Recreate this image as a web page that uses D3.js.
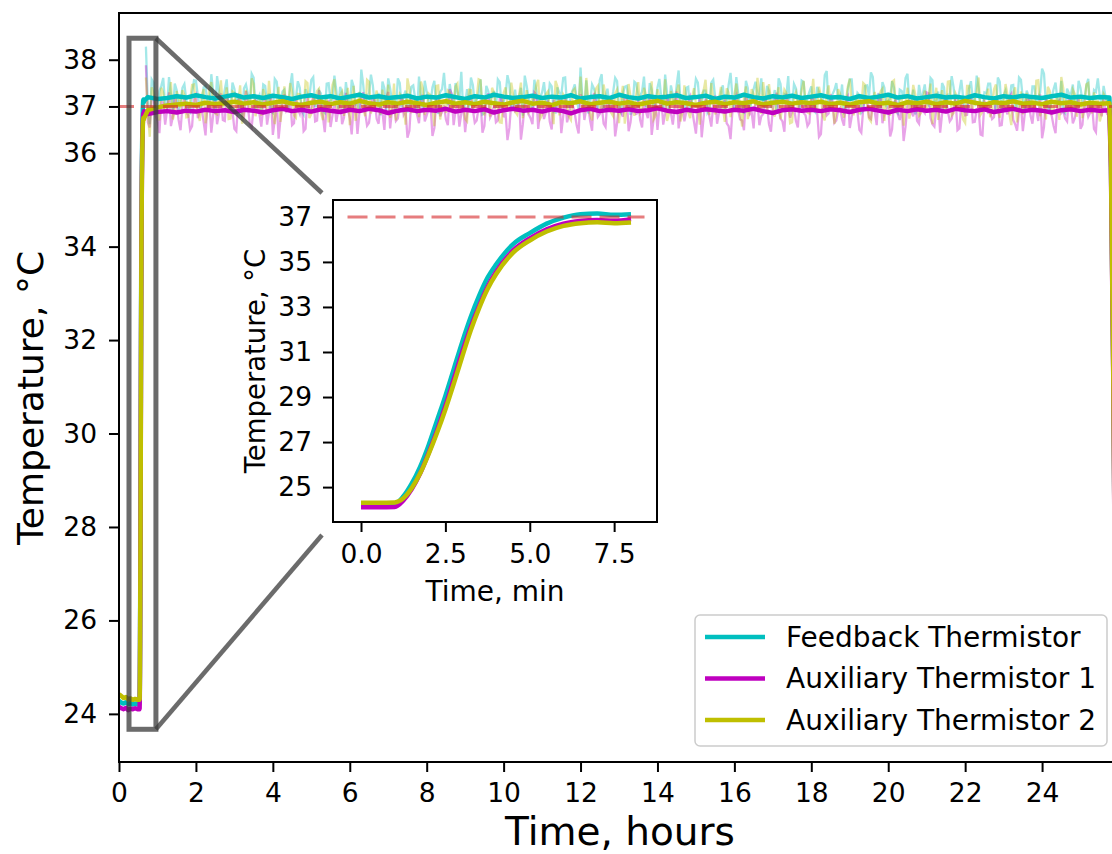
<!DOCTYPE html>
<html lang="en">
<head>
    <meta charset="utf-8">
    <script src="https://d3js.org/d3.v7.min.js"></script>
</head>
<body style="margin:0;background:#fff">
<style>
    text { font-family: "DejaVu Sans", sans-serif; fill: #000; }
</style>
<svg id="chart"></svg>
<script>
    const width = 1112;
    const height = 854;

    // sensors
    const sensorNames = ['Feedback Thermistor', 'Auxiliary Thermistor 1', 'Auxiliary Thermistor 2'];
    const sensorColors = ['#00bfbf', '#bf00bf', '#bfbf00'];
    const setpoint = 37;

    // main axis ticks
    const hourTicks = [0, 2, 4, 6, 8, 10, 12, 14, 16, 18, 20, 22, 24];
    const tempTicks = [24, 26, 28, 30, 32, 34, 36, 38];

    // before heating (hours)
    const preHours = [0, 0.06, 0.12, 0.18, 0.24, 0.30, 0.36, 0.42, 0.48];
    const preFeedback = [24.28, 24.24, 24.22, 24.25, 24.21, 24.23, 24.20, 24.22, 24.20];
    const preAux1 = [24.15, 24.12, 24.10, 24.13, 24.08, 24.11, 24.10, 24.12, 24.10];
    const preAux2 = [24.42, 24.38, 24.34, 24.36, 24.31, 24.33, 24.30, 24.32, 24.30];

    // heating phase (inset), minutes from start of heating
    const heatStartHour = 0.52;
    const insetMinutes = [0, 0.5, 1.0, 1.25, 1.5, 1.75, 2.0, 2.25, 2.5, 2.75, 3.0, 3.25, 3.5, 3.75, 4.0, 4.5, 5.0, 5.5, 6.0, 6.5, 7.0, 7.5, 8.0];
    const insetFeedback = [24.20, 24.20, 24.25, 24.58, 25.15, 25.90, 26.85, 27.95, 29.05, 30.25, 31.45, 32.55, 33.50, 34.30, 34.88, 35.78, 36.28, 36.70, 36.97, 37.12, 37.15, 37.09, 37.12];
    const insetAux1 = [24.10, 24.10, 24.12, 24.40, 24.90, 25.60, 26.50, 27.50, 28.60, 29.80, 31.00, 32.10, 33.05, 33.90, 34.55, 35.50, 36.05, 36.45, 36.70, 36.82, 36.86, 36.83, 36.90];
    const insetAux2 = [24.30, 24.30, 24.32, 24.50, 24.95, 25.60, 26.45, 27.40, 28.45, 29.60, 30.80, 31.95, 32.95, 33.80, 34.45, 35.40, 35.95, 36.35, 36.60, 36.72, 36.76, 36.72, 36.75];
    const insetMinTicks = [0, 2.5, 5.0, 7.5];
    const insetTempTicks = [25, 27, 29, 31, 33, 35, 37];

    // smoothed plateau, every 0.25 h from 0.75 h
    const plateauStart = 0.75;
    const plateauStep = 0.25;
    const plateauFeedback = [
        37.20, 37.16, 37.18, 37.22, 37.19, 37.24, 37.20, 37.17, 37.21, 37.25,
        37.19, 37.22, 37.18, 37.23, 37.20, 37.16, 37.21, 37.24, 37.19, 37.22,
        37.17, 37.21, 37.25, 37.19, 37.22, 37.18, 37.20, 37.23, 37.17, 37.21,
        37.19, 37.24, 37.20, 37.16, 37.22, 37.19, 37.25, 37.21, 37.18, 37.20,
        37.23, 37.18, 37.21, 37.19, 37.24, 37.17, 37.20, 37.22, 37.18, 37.25,
        37.20, 37.17, 37.22, 37.19, 37.21, 37.24, 37.18, 37.20, 37.23, 37.16,
        37.21, 37.19, 37.25, 37.20, 37.17, 37.22, 37.19, 37.23, 37.18, 37.21,
        37.24, 37.19, 37.20, 37.16, 37.22, 37.18, 37.21, 37.25, 37.19, 37.22,
        37.17, 37.20, 37.23, 37.19, 37.21, 37.18, 37.24, 37.20, 37.17, 37.22,
        37.19, 37.23, 37.20, 37.18, 37.22, 37.25, 37.19, 37.21, 37.18, 37.20,
        37.19];
    const plateauAux1 = [
        36.84, 36.88, 36.90, 36.87, 36.91, 36.89, 36.93, 36.90, 36.92, 36.88,
        36.93, 36.91, 36.87, 36.92, 36.95, 36.90, 36.93, 36.89, 36.94, 36.91,
        36.88, 36.93, 36.90, 36.95, 36.92, 36.86, 36.91, 36.94, 36.90, 36.93,
        36.91, 36.95, 36.89, 36.93, 36.90, 36.94, 36.87, 36.92, 36.95, 36.91,
        36.93, 36.89, 36.94, 36.91, 36.85, 36.92, 36.95, 36.90, 36.93, 36.91,
        36.94, 36.90, 36.92, 36.96, 36.91, 36.88, 36.93, 36.90, 36.94, 36.92,
        36.89, 36.93, 36.91, 36.95, 36.90, 36.86, 36.92, 36.94, 36.91, 36.93,
        36.90, 36.94, 36.92, 36.88, 36.93, 36.95, 36.91, 36.87, 36.93, 36.90,
        36.94, 36.91, 36.93, 36.89, 36.95, 36.92, 36.90, 36.94, 36.88, 36.92,
        36.95, 36.90, 36.93, 36.91, 36.87, 36.92, 36.94, 36.90, 36.93, 36.91,
        36.92];
    const plateauAux2 = [
        36.92, 36.98, 37.02, 37.04, 37.06, 37.03, 37.08, 37.05, 37.07, 37.10,
        37.06, 37.09, 37.04, 37.08, 37.11, 37.06, 37.03, 37.08, 37.10, 37.05,
        37.09, 37.06, 37.12, 37.07, 37.04, 37.09, 37.06, 37.10, 37.07, 37.03,
        37.08, 37.11, 37.06, 37.09, 37.05, 37.10, 37.07, 37.04, 37.09, 37.12,
        37.06, 37.08, 37.03, 37.09, 37.07, 37.11, 37.05, 37.08, 37.10, 37.06,
        37.09, 37.04, 37.08, 37.12, 37.06, 37.09, 37.07, 37.03, 37.08, 37.10,
        37.05, 37.09, 37.07, 37.11, 37.04, 37.08, 37.10, 37.06, 37.09, 37.07,
        37.10, 37.05, 37.08, 37.04, 37.09, 37.11, 37.06, 37.08, 37.03, 37.09,
        37.07, 37.10, 37.05, 37.09, 37.06, 37.12, 37.08, 37.04, 37.09, 37.07,
        37.11, 37.06, 37.08, 37.05, 37.10, 37.07, 37.09, 37.04, 37.08, 37.06,
        37.07];

    // end of run, cooling
    const dropHours = [25.79, 25.855, 25.90];
    const dropFeedback = [35.9, 31.1, 26.0];
    const dropAux1 = [35.7, 30.9, 25.8];
    const dropAux2 = [35.8, 31.0, 25.9];

    // raw readings, every 0.1 h from 0.7 h
    const rawStart = 0.7;
    const rawStep = 0.1;
    const rawFeedback = [
        38.28, 36.62, 37.51, 36.95, 37.44, 37.02, 37.63, 36.88, 37.35, 37.10,
        37.48, 36.91, 37.27, 37.55, 36.98, 37.41, 37.06, 37.69, 36.85, 37.32,
        37.12, 37.58, 36.94, 37.38, 37.21, 36.79, 37.47, 37.03, 37.62, 37.15,
        36.92, 37.44, 37.28, 36.86, 37.53, 37.09, 37.36, 36.97, 37.71, 37.18,
        37.40, 36.83, 37.25, 37.57, 37.01, 37.34, 36.90, 37.49, 37.13, 37.66,
        36.96, 37.30, 37.52, 36.89, 37.43, 37.07, 37.79, 36.99, 37.26, 37.45,
        37.04, 36.81, 37.39, 37.60, 37.11, 36.93, 37.50, 37.22, 36.87, 37.42,
        37.17, 37.64, 36.95, 37.31, 37.08, 37.55, 36.84, 37.37, 37.20, 37.48,
        36.98, 37.29, 37.74, 37.05, 36.90, 37.46, 37.14, 37.58, 36.86, 37.33,
        37.23, 36.97, 37.52, 37.10, 37.67, 36.91, 37.36, 37.19, 36.80, 37.44,
        37.06, 37.57, 36.94, 37.30, 37.12, 37.49, 36.88, 37.41, 37.25, 37.62,
        36.99, 37.35, 37.16, 37.83, 37.02, 36.85, 37.47, 37.21, 37.56, 36.93,
        37.38, 37.09, 37.61, 36.96, 37.27, 37.44, 36.82, 37.53, 37.15, 37.32,
        37.01, 37.50, 36.92, 37.40, 37.18, 37.68, 36.95, 37.24, 37.46, 37.07,
        36.89, 37.42, 37.13, 37.59, 37.03, 37.34, 36.87, 37.51, 37.20, 36.98,
        37.45, 37.11, 37.72, 36.94, 37.28, 37.06, 37.55, 36.90, 37.37, 37.22,
        37.60, 36.97, 37.33, 37.14, 36.84, 37.48, 37.26, 37.65, 37.00, 37.39,
        36.93, 37.52, 37.19, 37.43, 36.88, 37.31, 37.08, 37.76, 36.99, 37.35,
        37.16, 37.47, 36.91, 37.58, 37.05, 37.29, 36.86, 37.44, 37.23, 37.63,
        37.02, 36.95, 37.40, 37.12, 37.54, 36.89, 37.36, 37.18, 37.70, 37.04,
        36.83, 37.46, 37.27, 37.09, 37.61, 36.97, 37.32, 37.50, 36.92, 37.25,
        37.41, 37.07, 37.57, 36.90, 37.38, 37.14, 37.66, 36.96, 37.30, 37.49,
        37.11, 36.87, 37.53, 37.24, 37.02, 37.45, 36.94, 37.62, 37.17, 37.34,
        36.98, 37.43, 37.20, 37.81, 37.06, 36.91, 37.37, 37.13, 37.55, 36.85,
        37.28, 37.47, 37.01, 37.39, 37.16, 37.59, 36.93, 37.31, 37.22, 37.44,
        37.05];
    const rawAux1 = [
        37.88, 36.55, 37.21, 36.70, 37.12, 36.61, 37.30, 36.78, 37.05, 36.49,
        37.16, 36.82, 36.58, 37.24, 36.90, 36.67, 37.09, 36.44, 37.19, 36.86,
        36.71, 37.27, 36.95, 36.52, 37.14, 36.80, 37.33, 36.63, 36.99, 37.08,
        36.57, 37.20, 36.88, 36.39, 37.11, 36.74, 37.26, 36.92, 36.60, 37.17,
        36.84, 36.47, 37.22, 36.97, 36.68, 37.35, 36.79, 37.03, 36.56, 37.13,
        36.91, 36.62, 37.29, 36.76, 37.01, 36.41, 37.18, 36.87, 36.65, 37.23,
        36.73, 37.10, 36.50, 37.31, 36.94, 36.69, 37.06, 36.83, 36.33, 37.15,
        36.98, 36.64, 37.25, 36.81, 37.04, 36.54, 37.19, 36.89, 36.72, 37.37,
        36.60, 37.07, 36.85, 36.45, 37.21, 36.93, 36.70, 37.12, 36.58, 37.28,
        36.86, 36.66, 37.17, 36.77, 36.28, 37.09, 36.90, 37.24, 36.62, 37.00,
        36.75, 37.30, 36.52, 37.08, 36.88, 36.67, 37.14, 36.96, 36.43, 37.20,
        36.82, 37.02, 36.59, 37.26, 36.71, 36.99, 36.48, 37.11, 36.84, 36.63,
        37.18, 36.92, 36.36, 37.05, 36.78, 37.22, 36.66, 36.97, 37.13, 36.55,
        36.89, 37.27, 36.73, 36.50, 37.16, 36.85, 37.03, 36.61, 37.32, 36.80,
        36.68, 37.10, 36.94, 36.42, 37.19, 36.76, 36.99, 36.57, 37.23, 36.87,
        37.06, 36.64, 36.30, 37.14, 36.91, 36.70, 37.25, 36.83, 36.53, 37.09,
        36.79, 37.18, 36.62, 36.95, 37.29, 36.74, 36.46, 37.07, 36.90, 36.69,
        37.12, 36.86, 36.58, 37.21, 36.97, 36.35, 37.04, 36.81, 37.26, 36.65,
        36.93, 36.72, 37.15, 36.54, 37.01, 36.88, 36.44, 37.20, 36.77, 37.08,
        36.60, 37.24, 36.85, 36.98, 36.51, 37.13, 36.71, 36.26, 37.02, 36.89,
        37.17, 36.63, 36.92, 37.30, 36.75, 36.57, 37.10, 36.84, 37.19, 36.68,
        36.96, 36.49, 37.07, 36.81, 37.23, 36.66, 36.94, 36.40, 37.11, 36.87,
        36.73, 37.16, 36.59, 37.00, 36.83, 37.27, 36.62, 36.91, 36.47, 37.14,
        36.80, 37.05, 36.69, 36.32, 37.18, 36.95, 36.58, 37.09, 36.86, 36.74,
        37.21, 36.64, 36.98, 36.52, 37.12, 36.78, 37.03, 36.45, 36.92, 37.15,
        36.82];
    const rawAux2 = [
        37.62, 36.35, 37.28, 36.81, 37.40, 36.90, 37.17, 36.72, 37.33, 36.96,
        37.25, 36.78, 37.46, 37.00, 36.69, 37.37, 36.93, 37.52, 36.85, 37.19,
        36.98, 37.41, 36.74, 37.29, 37.07, 36.63, 37.35, 36.89, 37.48, 37.03,
        36.80, 37.22, 37.55, 36.91, 37.14, 36.67, 37.43, 36.99, 37.31, 36.76,
        37.26, 36.95, 37.50, 36.84, 37.09, 37.38, 36.71, 37.20, 36.97, 37.58,
        36.87, 37.32, 37.05, 36.60, 37.44, 36.94, 37.16, 36.79, 37.53, 37.01,
        37.34, 36.83, 37.11, 37.47, 36.92, 36.70, 37.27, 37.04, 37.60, 36.88,
        37.13, 36.77, 37.39, 36.96, 37.24, 36.58, 37.45, 37.02, 36.86, 37.30,
        36.94, 37.49, 37.08, 36.73, 37.36, 36.90, 37.18, 37.56, 36.81, 37.12,
        37.40, 36.98, 36.66, 37.29, 37.06, 37.51, 36.89, 37.23, 36.75, 37.35,
        36.95, 37.15, 37.57, 36.82, 37.26, 36.97, 36.62, 37.42, 37.03, 37.19,
        36.78, 37.33, 37.07, 37.64, 36.91, 37.17, 36.70, 37.38, 36.99, 37.47,
        37.10, 36.86, 37.28, 36.64, 37.44, 37.01, 37.21, 36.80, 37.52, 36.93,
        37.24, 37.00, 36.72, 37.37, 36.96, 37.58, 36.85, 37.14, 37.31, 36.68,
        37.45, 36.88, 37.20, 37.05, 36.61, 37.34, 36.99, 37.50, 36.83, 37.16,
        36.97, 37.39, 36.77, 37.25, 37.08, 36.57, 37.43, 36.92, 37.27, 37.61,
        36.84, 37.13, 37.48, 36.95, 37.22, 36.73, 37.36, 37.04, 36.66, 37.30,
        37.09, 37.55, 36.87, 37.18, 36.94, 37.42, 36.79, 37.26, 37.01, 36.63,
        37.37, 36.90, 37.12, 37.59, 36.81, 37.23, 36.98, 37.46, 36.74, 37.15,
        36.99, 37.32, 36.69, 37.21, 37.53, 36.88, 37.07, 36.59, 37.40, 37.02,
        37.28, 36.80, 37.17, 36.93, 37.49, 37.06, 36.71, 37.35, 36.95, 37.54,
        36.86, 37.19, 37.03, 36.65, 37.44, 36.97, 37.30, 36.82, 37.14, 37.38,
        36.92, 37.47, 36.76, 37.10, 37.25, 36.60, 37.41, 37.00, 36.83, 37.29,
        37.13, 36.89, 37.56, 37.04, 36.72, 37.33, 36.94, 37.20, 37.63, 36.87,
        37.01, 37.36, 36.78, 37.24, 36.96, 37.50, 36.85, 37.11, 36.68, 37.27,
        37.05];

    // raw readings in between, every 0.1 h from 0.75 h
    const rawMidStart = 0.75;
    const rawFeedbackMid = [
        37.05, 37.58, 36.84, 37.33, 37.61, 36.97, 37.26, 37.49, 36.90, 37.40,
        37.14, 36.87, 37.56, 37.23, 37.02, 37.44, 36.93, 37.30, 37.65, 37.08,
        37.36, 36.99, 37.51, 37.12, 36.82, 37.39, 37.27, 37.70, 36.95, 37.24,
        37.47, 37.06, 36.89, 37.59, 37.18, 37.32, 36.96, 37.43, 37.10, 37.54,
        36.91, 37.37, 37.21, 37.63, 37.00, 37.28, 36.86, 37.50, 37.15, 37.35,
        37.42, 36.94, 37.19, 37.57, 37.04, 36.88, 37.46, 37.25, 37.68, 37.01,
        37.29, 37.53, 36.92, 37.38, 37.13, 37.60, 36.98, 37.34, 37.07, 37.45,
        36.85, 37.22, 37.55, 37.09, 37.41, 36.95, 37.31, 37.72, 37.03, 37.20,
        37.50, 37.16, 36.90, 37.37, 37.62, 37.05, 37.27, 36.83, 37.44, 37.11,
        37.33, 37.58, 36.97, 37.24, 37.48, 37.02, 36.89, 37.40, 37.66, 37.17,
        36.93, 37.35, 37.19, 37.52, 37.06, 37.43, 36.87, 37.29, 37.61, 37.00,
        37.26, 37.47, 36.94, 37.13, 37.56, 37.08, 37.38, 36.91, 37.69, 37.21,
        37.04, 37.32, 37.54, 36.88, 37.42, 37.15, 36.96, 37.49, 37.23, 37.64,
        36.99, 37.36, 37.10, 37.59, 36.92, 37.28, 37.45, 37.03, 37.77, 37.18,
        37.40, 36.86, 37.25, 37.51, 37.07, 37.34, 36.95, 37.57, 37.12, 37.30,
        36.90, 37.46, 37.20, 37.63, 37.01, 36.84, 37.39, 37.16, 37.53, 37.27,
        37.09, 37.44, 36.97, 37.35, 37.60, 37.05, 37.22, 36.89, 37.48, 37.14,
        37.55, 37.00, 37.31, 36.93, 37.42, 37.19, 37.67, 36.96, 37.26, 37.50,
        37.11, 36.87, 37.37, 37.58, 37.06, 37.24, 36.91, 37.45, 37.73, 37.02,
        37.29, 37.52, 36.98, 37.17, 37.40, 36.85, 37.33, 37.61, 37.08, 37.36,
        36.94, 37.21, 37.47, 37.03, 37.56, 37.13, 36.88, 37.41, 37.25, 37.65,
        37.00, 37.32, 37.18, 36.92, 37.54, 37.07, 37.39, 36.97, 37.28, 37.49,
        37.15, 37.62, 36.90, 37.34, 37.10, 37.46, 37.01, 37.57, 36.86, 37.23,
        37.43, 37.05, 37.30, 37.70, 36.95, 37.19, 37.51, 37.08, 36.89, 37.38,
        37.26, 36.99, 37.55, 37.12, 37.44, 36.93, 37.35, 37.60, 37.04, 37.21];
    const rawAux1Mid = [
        36.66, 37.19, 36.80, 36.43, 37.07, 36.92, 36.58, 37.25, 36.71, 37.02,
        36.87, 36.50, 37.15, 36.75, 36.96, 36.38, 37.10, 36.83, 36.62, 37.28,
        36.69, 37.04, 36.90, 36.47, 37.20, 36.78, 37.01, 36.55, 37.13, 36.85,
        36.98, 36.61, 37.23, 36.72, 36.31, 37.06, 36.89, 37.17, 36.64, 36.95,
        37.09, 36.52, 36.84, 37.26, 36.70, 36.99, 36.45, 37.14, 36.81, 36.67,
        37.21, 36.76, 36.93, 36.40, 37.03, 36.86, 37.30, 36.59, 36.97, 37.11,
        36.63, 36.88, 37.18, 36.53, 37.00, 36.74, 37.24, 36.92, 36.48, 37.08,
        36.82, 37.16, 36.68, 36.95, 36.37, 37.12, 36.79, 37.02, 36.60, 37.27,
        36.91, 36.57, 37.05, 36.85, 37.22, 36.65, 36.98, 36.44, 37.15, 36.77,
        37.01, 36.70, 37.19, 36.87, 36.54, 37.10, 36.94, 36.29, 37.06, 36.83,
        36.62, 37.25, 36.90, 36.73, 37.13, 36.51, 36.99, 37.20, 36.80, 36.66,
        37.08, 36.85, 36.42, 37.17, 36.96, 36.69, 37.29, 36.78, 37.03, 36.56,
        36.92, 37.14, 36.64, 36.88, 37.23, 36.47, 37.05, 36.82, 36.71, 37.18,
        36.75, 36.39, 37.11, 36.97, 36.61, 37.26, 36.86, 37.00, 36.53, 37.09,
        36.89, 37.21, 36.67, 36.94, 36.34, 37.16, 36.79, 37.04, 36.63, 36.98,
        37.12, 36.58, 36.91, 37.24, 36.72, 36.49, 37.07, 36.87, 37.19, 36.60,
        36.84, 37.02, 36.46, 37.15, 36.93, 36.68, 37.27, 36.76, 36.99, 36.55,
        37.10, 36.81, 36.65, 37.20, 36.90, 36.41, 37.06, 36.85, 37.13, 36.70,
        36.97, 36.59, 37.22, 36.78, 37.01, 36.50, 36.95, 37.17, 36.73, 36.88,
        37.25, 36.64, 36.92, 36.36, 37.09, 36.83, 37.03, 36.57, 37.14, 36.79,
        36.69, 37.08, 36.86, 37.28, 36.62, 36.97, 36.44, 37.11, 36.90, 36.74,
        37.18, 36.53, 37.00, 36.82, 37.23, 36.67, 36.94, 36.38, 37.05, 36.89,
        36.77, 37.12, 36.60, 36.96, 37.20, 36.71, 36.48, 37.07, 36.84, 37.16,
        36.63, 36.93, 37.26, 36.56, 37.02, 36.80, 36.43, 37.13, 36.91, 36.68,
        37.04, 36.75, 37.19, 36.61, 36.98, 36.87, 36.52, 37.10, 36.79, 36.95];
    const rawAux2Mid = [
        36.84, 37.41, 37.06, 36.70, 37.29, 36.95, 37.52, 36.88, 37.18, 37.35,
        36.77, 37.13, 37.47, 36.92, 37.24, 36.64, 37.39, 37.01, 36.83, 37.56,
        37.09, 36.73, 37.32, 36.97, 37.45, 36.86, 37.15, 37.60, 36.79, 37.21,
        37.37, 36.90, 37.05, 36.62, 37.42, 37.11, 36.94, 37.50, 36.81, 37.27,
        36.99, 37.54, 36.75, 37.19, 37.33, 36.87, 37.08, 36.66, 37.46, 37.02,
        37.25, 36.80, 37.40, 37.12, 36.69, 37.31, 36.96, 37.57, 36.85, 37.14,
        36.93, 37.36, 37.04, 36.76, 37.49, 37.00, 37.22, 36.61, 37.38, 36.89,
        37.17, 37.53, 36.82, 37.28, 36.98, 37.44, 36.72, 37.10, 37.34, 36.91,
        37.43, 36.86, 37.20, 36.68, 37.35, 37.06, 37.58, 36.94, 37.13, 36.78,
        37.30, 37.01, 36.65, 37.41, 36.97, 37.24, 36.83, 37.51, 37.07, 36.88,
        37.19, 37.46, 36.74, 37.03, 37.32, 36.90, 37.55, 36.81, 37.26, 37.00,
        36.71, 37.38, 37.11, 36.95, 37.61, 36.84, 37.16, 37.44, 36.92, 37.23,
        37.05, 36.79, 37.36, 37.14, 36.63, 37.48, 36.98, 37.27, 36.86, 37.40,
        36.96, 37.54, 36.80, 37.21, 37.02, 36.69, 37.33, 37.09, 37.47, 36.87,
        37.12, 36.75, 37.39, 36.99, 37.25, 37.57, 36.82, 37.15, 36.94, 37.42,
        36.67, 37.30, 37.06, 37.49, 36.89, 37.18, 36.73, 37.37, 37.01, 37.24,
        37.52, 36.91, 37.13, 36.78, 37.41, 37.04, 37.29, 36.64, 37.20, 36.97,
        37.35, 37.08, 36.85, 37.59, 36.93, 37.22, 36.70, 37.45, 37.11, 36.88,
        37.26, 36.76, 37.43, 37.00, 37.17, 36.83, 37.50, 37.03, 36.68, 37.31,
        36.95, 37.38, 37.14, 36.80, 37.56, 36.90, 37.23, 37.06, 36.74, 37.46,
        37.02, 36.86, 37.34, 37.19, 36.62, 37.40, 37.10, 36.97, 37.53, 36.81,
        37.28, 37.05, 36.72, 37.44, 36.99, 37.16, 37.62, 36.89, 37.21, 36.77,
        37.37, 36.94, 37.11, 37.48, 36.84, 37.25, 36.66, 37.32, 37.08, 36.92,
        37.18, 37.55, 36.79, 37.03, 37.42, 36.87, 37.14, 36.71, 37.39, 37.00,
        36.88, 37.27, 37.09, 36.75, 37.47, 36.96, 37.30, 37.12, 36.83, 37.20];

    // zoom box in main axes (hours, degC)
    const zoomHours = [0.26, 0.96];
    const zoomTemps = [23.67, 38.46];

    // layout
    const margin = {left: 119, top: 13, right: 1119, bottom: 762};
    const inset = {left: 333, top: 200, right: 657, bottom: 522};
    const tickFont = 26.5;

    const svg = d3.select('#chart');
    svg.attr('width', width).attr('height', height);

    const x = d3.scaleLinear().domain([0, 26]).range([margin.left, margin.right]);
    const y = d3.scaleLinear().domain([22.97, 39.0]).range([margin.bottom, margin.top]);

    svg.append('defs').append('clipPath').attr('id', 'mainClip')
        .append('rect')
        .attr('x', margin.left).attr('y', margin.top)
        .attr('width', margin.right - margin.left).attr('height', margin.bottom - margin.top);

    const plot = svg.append('g').attr('clip-path', 'url(#mainClip)');

    const line = d3.line().x((d) => x(d[0])).y((d) => y(d[1]));

    // raw traces: both sample sets merged in time order
    const rawSets = [[rawFeedback, rawFeedbackMid], [rawAux1, rawAux1Mid], [rawAux2, rawAux2Mid]];
    rawSets.forEach(([main, mid], k) => {
        const pts = [
            ...main.map((v, i) => [rawStart + i * rawStep, v]),
            ...mid.map((v, i) => [rawMidStart + i * rawStep, v])
        ].sort((a, b) => a[0] - b[0]);
        plot.append('path')
            .attr('d', line(pts))
            .attr('fill', 'none')
            .attr('stroke', sensorColors[k])
            .attr('stroke-opacity', 0.36)
            .attr('stroke-width', 2.3);
    });

    // smoothed traces
    const preSets = [preFeedback, preAux1, preAux2];
    const insetSets = [insetFeedback, insetAux1, insetAux2];
    const plateauSets = [plateauFeedback, plateauAux1, plateauAux2];
    const dropSets = [dropFeedback, dropAux1, dropAux2];

    for (let k = 0; k < 3; k++) {
        const pts = [
            ...preHours.map((h, i) => [h, preSets[k][i]]),
            ...insetMinutes.map((m, i) => [heatStartHour + m / 60, insetSets[k][i]]),
            ...plateauSets[k].map((v, i) => [plateauStart + i * plateauStep, v]),
            ...dropHours.map((h, i) => [h, dropSets[k][i]])
        ];
        plot.append('path')
            .attr('d', line(pts))
            .attr('fill', 'none')
            .attr('stroke', sensorColors[k])
            .attr('stroke-width', 4.5)
            .attr('stroke-linejoin', 'round');
    }

    // setpoint line
    plot.append('line')
        .attr('x1', x(0)).attr('x2', x(26))
        .attr('y1', y(setpoint)).attr('y2', y(setpoint))
        .attr('stroke', '#d62728')
        .attr('stroke-opacity', 0.6)
        .attr('stroke-width', 3)
        .attr('stroke-dasharray', '15,7');

    // zoom box
    svg.append('rect')
        .attr('x', x(zoomHours[0])).attr('y', y(zoomTemps[1]))
        .attr('width', x(zoomHours[1]) - x(zoomHours[0]))
        .attr('height', y(zoomTemps[0]) - y(zoomTemps[1]))
        .attr('fill', 'none')
        .attr('stroke', '#3a3a3a')
        .attr('stroke-opacity', 0.75)
        .attr('stroke-width', 5);

    // connectors to inset
    const connectors = [
        [x(zoomHours[1]), y(zoomTemps[1]), inset.left - 11, inset.top - 7],
        [x(zoomHours[1]), y(zoomTemps[0]), inset.left - 11, inset.bottom + 13]
    ];
    connectors.forEach((c) => {
        svg.append('line')
            .attr('x1', c[0]).attr('y1', c[1]).attr('x2', c[2]).attr('y2', c[3])
            .attr('stroke', '#3a3a3a')
            .attr('stroke-opacity', 0.75)
            .attr('stroke-width', 4.5);
    });

    // main frame
    svg.append('rect')
        .attr('x', margin.left).attr('y', margin.top)
        .attr('width', margin.right - margin.left).attr('height', margin.bottom - margin.top)
        .attr('fill', 'none').attr('stroke', '#000').attr('stroke-width', 2);

    // main axes
    const xAxis = svg.append('g')
        .attr('transform', `translate(0,${margin.bottom})`)
        .call(d3.axisBottom(x).tickValues(hourTicks).tickSize(10).tickPadding(11).tickFormat(d3.format('d')));
    const yAxis = svg.append('g')
        .attr('transform', `translate(${margin.left},0)`)
        .call(d3.axisLeft(y).tickValues([...tempTicks, setpoint]).tickSize(10).tickPadding(12).tickFormat(d3.format('d')));
    [xAxis, yAxis].forEach((a) => {
        a.select('.domain').remove();
        a.selectAll('.tick line').attr('stroke', '#000').attr('stroke-width', 2);
        a.selectAll('.tick text').attr('font-size', tickFont).attr('fill', '#000');
    });
    yAxis.selectAll('.tick text').filter((d) => d === setpoint).attr('fill', '#d62728');

    svg.append('text')
        .attr('x', 620).attr('y', 845)
        .attr('text-anchor', 'middle').attr('font-size', 39)
        .text('Time, hours');
    svg.append('text')
        .attr('transform', 'translate(43,398) rotate(-90)')
        .attr('text-anchor', 'middle').attr('font-size', 36)
        .text('Temperature, °C');

    // inset
    const xi = d3.scaleLinear().domain([-0.83, 8.77]).range([inset.left, inset.right]);
    const yi = d3.scaleLinear().domain([23.45, 37.75]).range([inset.bottom, inset.top]);
    const lineI = d3.line().x((d) => xi(d[0])).y((d) => yi(d[1])).curve(d3.curveMonotoneX);

    const ig = svg.append('g');
    ig.append('rect')
        .attr('x', inset.left).attr('y', inset.top)
        .attr('width', inset.right - inset.left).attr('height', inset.bottom - inset.top)
        .attr('fill', '#fff');
    insetSets.forEach((vals, k) => {
        ig.append('path')
            .attr('d', lineI(vals.map((v, i) => [insetMinutes[i], v])))
            .attr('fill', 'none')
            .attr('stroke', sensorColors[k])
            .attr('stroke-width', 4.5);
    });
    ig.append('line')
        .attr('x1', xi(-0.4)).attr('x2', xi(8.4))
        .attr('y1', yi(setpoint)).attr('y2', yi(setpoint))
        .attr('stroke', '#d62728').attr('stroke-opacity', 0.6)
        .attr('stroke-width', 3).attr('stroke-dasharray', '20,8');
    ig.append('rect')
        .attr('x', inset.left).attr('y', inset.top)
        .attr('width', inset.right - inset.left).attr('height', inset.bottom - inset.top)
        .attr('fill', 'none').attr('stroke', '#000').attr('stroke-width', 2);

    const xiAxis = ig.append('g')
        .attr('transform', `translate(0,${inset.bottom})`)
        .call(d3.axisBottom(xi).tickValues(insetMinTicks).tickSize(10).tickPadding(12).tickFormat(d3.format('.1f')));
    const yiAxis = ig.append('g')
        .attr('transform', `translate(${inset.left},0)`)
        .call(d3.axisLeft(yi).tickValues(insetTempTicks).tickSize(10).tickPadding(11).tickFormat(d3.format('d')));
    [xiAxis, yiAxis].forEach((a) => {
        a.select('.domain').remove();
        a.selectAll('.tick line').attr('stroke', '#000').attr('stroke-width', 2);
        a.selectAll('.tick text').attr('font-size', tickFont).attr('fill', '#000');
    });
    yiAxis.selectAll('.tick text').filter((d) => d === setpoint).attr('fill', '#d62728');

    ig.append('text')
        .attr('x', (inset.left + inset.right) / 2).attr('y', 601)
        .attr('text-anchor', 'middle').attr('font-size', 28)
        .text('Time, min');
    ig.append('text')
        .attr('transform', `translate(265,${(inset.top + inset.bottom) / 2}) rotate(-90)`)
        .attr('text-anchor', 'middle').attr('font-size', 27.5)
        .text('Temperature, °C');

    // legend
    const legend = svg.append('g');
    legend.append('rect')
        .attr('x', 695).attr('y', 615).attr('width', 412).attr('height', 131)
        .attr('rx', 5)
        .attr('fill', '#fff').attr('fill-opacity', 0.8)
        .attr('stroke', '#cccccc').attr('stroke-width', 1.5);
    sensorNames.forEach((name, k) => {
        const ry = 637 + k * 41.5;
        legend.append('line')
            .attr('x1', 705).attr('x2', 765).attr('y1', ry).attr('y2', ry)
            .attr('stroke', sensorColors[k]).attr('stroke-width', 4.5);
        legend.append('text')
            .attr('x', 786).attr('y', ry).attr('dy', '0.35em')
            .attr('font-size', 28)
            .text(name);
    });
</script>
</body>
</html>
